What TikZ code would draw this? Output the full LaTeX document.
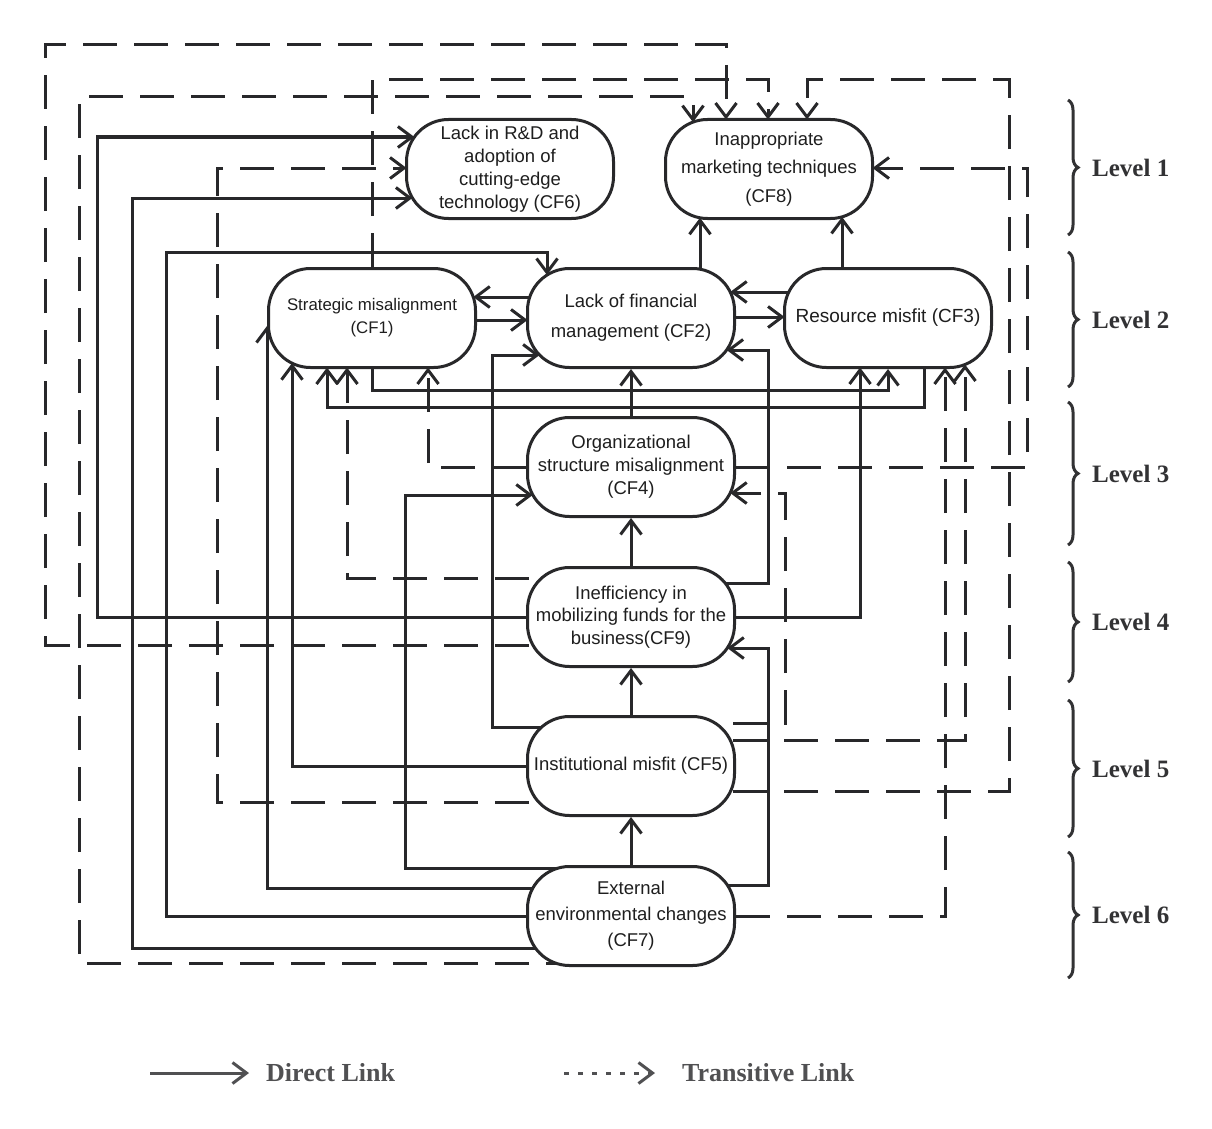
\documentclass[tikz,border=0pt]{standalone}
\usepackage{fontspec}
\setmainfont{Liberation Sans}
\newfontfamily\levelfont{Liberation Serif}
\usetikzlibrary{arrows.meta,calc,backgrounds,decorations.pathreplacing}

\definecolor{linec}{RGB}{40,40,42}
\definecolor{textc}{RGB}{30,30,30}
\definecolor{levelc}{RGB}{50,50,52}
\definecolor{legendc}{RGB}{80,80,82}

\tikzset{
  cf/.style={draw=linec, line width=3pt, fill=white, rounded corners=42pt,
    minimum width=207pt, minimum height=99pt, inner sep=0pt, align=center,
    text=textc, font=\fontsize{18.5}{23}\selectfont},
  barb/.style={-{Straight Barb[length=14pt,width=21pt,line width=3pt]}},
  dlink/.style={draw=linec, line width=3pt, barb},
  tlink/.style={dlink, dash pattern=on 34pt off 17pt},
  levelbrace/.style={draw=levelc, line width=3pt, decorate,
    decoration={brace, amplitude=10pt}},
  levellabel/.style={anchor=west, text=levelc, inner sep=0pt,
    font=\levelfont\bfseries\fontsize{25}{30}\selectfont},
  legendtext/.style={anchor=west, text=legendc, inner sep=0pt,
    font=\levelfont\bfseries\fontsize{26}{30}\selectfont},
}

\begin{document}
\begin{tikzpicture}[x=1pt, y=-1pt]
\useasboundingbox (0,0) rectangle (1212,1129);

% ---- factors ----
\node[cf] (cf6) at (510,169) {Lack in R\&D and\\adoption of\\cutting-edge\\technology (CF6)};
\node[cf, font=\fontsize{18.5}{28.5}\selectfont] (cf8) at (769,169) {Inappropriate\\marketing techniques\\(CF8)};
\node[cf, font=\fontsize{16.8}{23}\selectfont] (cf1) at (372,318) {Strategic misalignment\\(CF1)};
\node[cf, font=\fontsize{18.5}{30}\selectfont] (cf2) at (631,318) {Lack of financial\\management (CF2)};
\node[cf, font=\fontsize{19}{23}\selectfont] (cf3) at (888,318) {Resource misfit (CF3)};
\node[cf] (cf4) at (631,467) {Organizational\\structure misalignment\\(CF4)};
\node[cf, font=\fontsize{18.5}{22.5}\selectfont] (cf9) at (631,617) {Inefficiency in\\mobilizing funds for the\\business(CF9)};
\node[cf] (cf5) at (631,766) {Institutional misfit (CF5)};
\node[cf, font=\fontsize{18.5}{26}\selectfont] (cf7) at (631,916) {External\\environmental changes\\(CF7)};

\begin{scope}[on background layer]
% ---- direct links ----
\draw[dlink] (cf9.west) -| (97,137) -- ($(cf6)+(-95.6,-32)$);
\draw[dlink] ($(cf7)+(0,32)$) -| (132,198) -- ($(cf6)+(-97.6,29)$);
\draw[dlink] (cf7.west) -| (166,252) -| ($(cf2)+(-84,-43)$);
\draw[dlink] ($(cf7)+(0,-28)$) -| ($(cf1)+(-105,8)$);
\draw[dlink] (cf5.west) -| ($(cf1)+(-80,45.2)$);
\draw[dlink] ($(cf3)+(36,0)$) |- (327,407) -- ($(cf1)+(-45,49.5)$);
\draw[dlink] (cf1.south) |- (888,390) -- (cf3.south);
\draw[dlink] (cf9.east) -| ($(cf3)+(-28,49.5)$);
\draw[dlink] ($(cf1)+(103.5,2)$) -- ($(cf2)+(-103.5,2)$);
\draw[dlink] ($(cf2)+(-101.3,-21)$) -- ($(cf1)+(101.3,-21)$);
\draw[dlink] ($(cf2)+(103.5,-1)$) -- ($(cf3)+(-103.5,-1)$);
\draw[dlink] ($(cf3)+(-99.2,-26)$) -- ($(cf2)+(99.2,-26)$);
\draw[dlink] ($(cf2)+(69,-48.8)$) -- ($(cf8)+(-69,48.8)$);
\draw[dlink] ($(cf3)+(-46,-49.5)$) -- ($(cf8)+(73,47.9)$);
\draw[dlink] (cf4.north) -- (cf2.south);
\draw[dlink] (cf9.north) -- (cf4.south);
\draw[dlink] (cf5.north) -- (cf9.south);
\draw[dlink] (cf7.north) -- (cf5.south);
\draw[dlink] ($(cf5)+(0,-39)$) -| (492,355) -- ($(cf2)+(-91.4,37)$);
\draw[dlink] ($(cf9)+(0,-34)$) -| (768,350) -- ($(cf2)+(95.6,32)$);
\draw[dlink] ($(cf7)+(0,-31)$) -| (768,648) -- ($(cf9)+(96.3,31)$);
\draw[dlink] ($(cf7)+(0,-48)$) -| (405,495) -- ($(cf4)+(-98.2,28)$);

% ---- transitive links ----
\draw[tlink] ($(cf9)+(0,28)$) -| (45,45) -| ($(cf8)+(-43,-49.5)$);
\draw[tlink] ($(cf7)+(0,47)$) -| (79,97) -| ($(cf8)+(-76,-46.9)$);
\draw[tlink] (cf1.north) |- (768,80) -- ($(cf8)+(-1,-49.5)$);
\draw[tlink] ($(cf5)+(0,25)$) -| (1009,80) -| ($(cf8)+(38,-49.5)$);
\draw[tlink] (cf4.east) -| (1027,168) -- ($(cf8)+(103.5,-1)$);
\draw[tlink] ($(cf5)+(0,36)$) -| (217,168) -- ($(cf6)+(-103.5,-1)$);
\draw[tlink] ($(cf9)+(0,-39)$) -| ($(cf1)+(-25,49.5)$);
\draw[tlink] (cf4.west) -| ($(cf1)+(56,49.5)$);
\draw[tlink] ($(cf5)+(0,-43)$) -| (785,493) -- ($(cf4)+(99.2,26)$);
\draw[tlink] ($(cf5)+(0,-26)$) -| ($(cf3)+(77,46.5)$);
\draw[tlink] (cf7.east) -| ($(cf3)+(57,49.5)$);
\end{scope}

% ---- levels ----
\foreach \top/\bot/\n in {100/235/1, 252/387/2, 402/545/3, 562/682/4, 700/837/5, 852/978/6}{
  \draw[levelbrace] (1068,\top) -- (1068,\bot);
  \node[levellabel] (level\n) at (1092,{(\top+\bot)/2}) {Level \n};
}

% ---- legend ----
\node[legendtext] (lgdirect) at (266,1073) {Direct Link};
\node[legendtext] (lgtrans) at (682,1073) {Transitive Link};
\coordinate (lgdA) at (150,1073);
\coordinate (lgtA) at (564,1073);
\draw[draw=legendc, line width=3pt, barb]
  (lgdA) -- ($(lgdirect.west)+(-17,0)$);
\draw[draw=legendc, line width=3pt, dash pattern=on 5pt off 9pt, barb]
  (lgtA) -- ($(lgtrans.west)+(-27,0)$);
\end{tikzpicture}
\end{document}
